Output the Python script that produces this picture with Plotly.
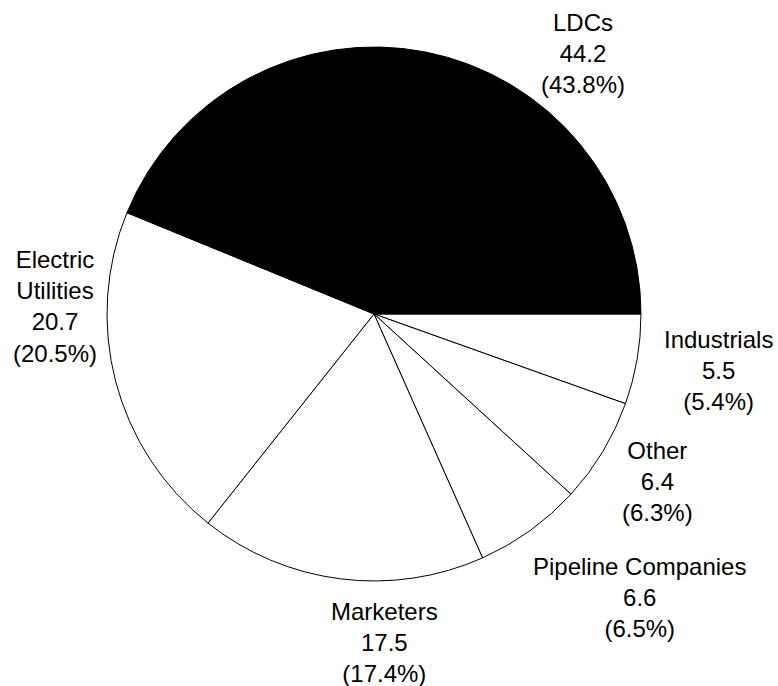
import plotly.graph_objects as go

# slices listed clockwise from 3 o'clock
labels = ["Industrials", "Other", "Pipeline Companies", "Marketers", "Electric<br>Utilities", "LDCs"]
values = [5.5, 6.4, 6.6, 17.5, 20.7, 44.2]
shares = ["5.4%", "6.3%", "6.5%", "17.4%", "20.5%", "43.8%"]
colors = ["white", "white", "white", "white", "white", "black"]

# where each label block sits (paper coords)
label_pos = [(0.9229, 0.4606), (0.8445, 0.2988), (0.8226, 0.1297),
             (0.4936, 0.0627), (0.0707, 0.5539), (0.7494, 0.9227)]

fig = go.Figure(go.Pie(
    labels=labels,
    values=values,
    sort=False,
    direction="clockwise",
    rotation=90,
    marker=dict(colors=colors, line=dict(color="black", width=1)),
    textinfo="none",
    domain=dict(x=[0.1375, 0.8239], y=[0.1531, 0.9315]),
    showlegend=False,
    hoverinfo="skip",
))

for lab, val, pct, (px_, py_) in zip(labels, values, shares, label_pos):
    fig.add_annotation(x=px_, y=py_, xref="paper", yref="paper",
                       text=f"{lab}<br>{val}<br>({pct})", showarrow=False,
                       xanchor="center", yanchor="middle",
                       font=dict(family="Liberation Sans, Arial", size=24, color="black"))

fig.update_layout(
    width=778, height=686,
    margin=dict(l=0, r=0, t=0, b=0),
    paper_bgcolor="white",
    plot_bgcolor="white",
)

# drop the default page margin so the figure fills the window exactly
fig.write_html("out.html", config={"displayModeBar": False},
               post_script="document.body.style.margin='0';document.body.style.overflow='hidden';")
